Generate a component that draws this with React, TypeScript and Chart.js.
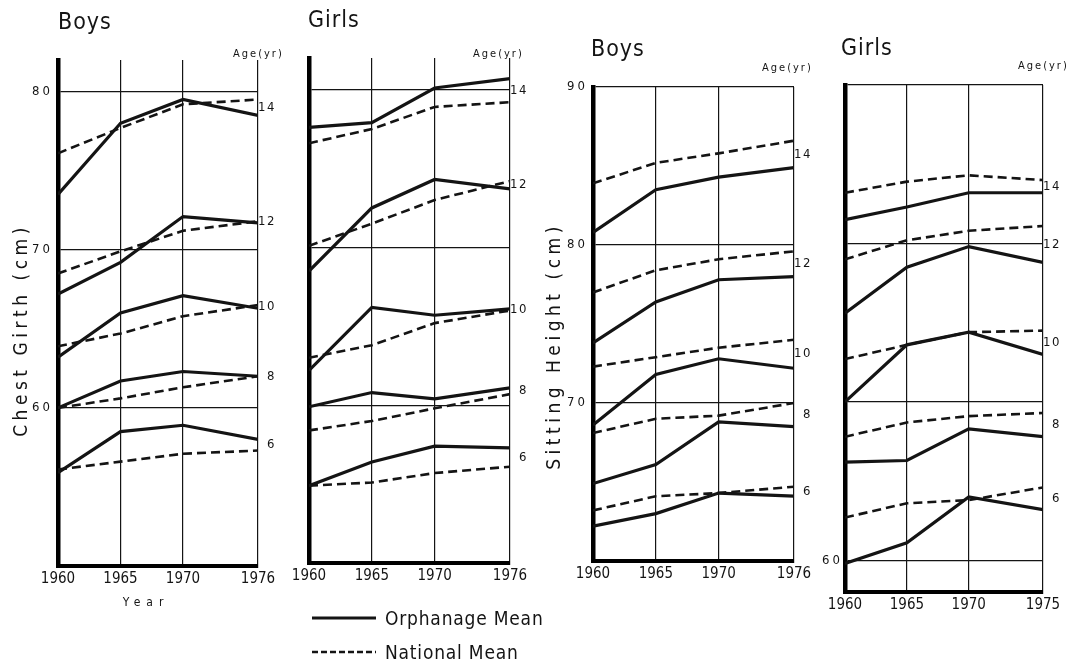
import React, { useEffect, useRef } from 'react';
import { Chart, registerables } from 'chart.js';

Chart.register(...registerables);

// ---------- data ----------
const years = [1960, 1965, 1970, 1976];
const ageLabels = ['14', '12', '10', '8', '6'];
const yearTickLabels = ['1960', '1965', '1970', '1976'];
const yearTickLabelsGirlsHeight = ['1960', '1965', '1970', '1975'];
const chestGridTicks = [60, 70, 80];
const heightGridTicksBoys = [70, 80, 90];
const heightGridTicksGirls = [60, 70, 80, 90];

// rows: ages 14, 12, 10, 8, 6 ; columns: years
const boysChestOrphanage = [
  [73.5, 78.0, 79.5, 78.5],
  [67.2, 69.2, 72.1, 71.7],
  [63.2, 66.0, 67.1, 66.3],
  [60.0, 61.7, 62.3, 62.0],
  [55.9, 58.5, 58.9, 58.0],
];
const boysChestNational = [
  [76.1, 77.7, 79.2, 79.5],
  [68.5, 69.9, 71.2, 71.8],
  [63.9, 64.7, 65.8, 66.5],
  [60.0, 60.6, 61.3, 62.0],
  [56.1, 56.6, 57.1, 57.3],
];
const girlsChestOrphanage = [
  [77.6, 77.9, 80.1, 80.7],
  [68.5, 72.5, 74.3, 73.7],
  [62.2, 66.2, 65.7, 66.1],
  [59.9, 60.8, 60.4, 61.1],
  [54.9, 56.4, 57.4, 57.3],
];
const girlsChestNational = [
  [76.6, 77.5, 78.9, 79.2],
  [70.1, 71.5, 73.0, 74.2],
  [63.0, 63.8, 65.2, 66.0],
  [58.4, 59.0, 59.8, 60.7],
  [54.9, 55.1, 55.7, 56.1],
];
const boysHeightOrphanage = [
  [80.8, 83.5, 84.3, 84.9],
  [73.8, 76.4, 77.8, 78.0],
  [68.6, 71.8, 72.8, 72.2],
  [64.9, 66.1, 68.8, 68.5],
  [62.2, 63.0, 64.3, 64.1],
];
const boysHeightNational = [
  [83.9, 85.2, 85.8, 86.6],
  [77.0, 78.4, 79.1, 79.6],
  [72.3, 72.9, 73.5, 74.0],
  [68.1, 69.0, 69.2, 70.0],
  [63.2, 64.1, 64.3, 64.7],
];
const girlsHeightOrphanage = [
  [81.5, 82.3, 83.2, 83.2],
  [75.6, 78.5, 79.8, 78.8],
  [70.0, 73.6, 74.4, 73.0],
  [66.2, 66.3, 68.3, 67.8],
  [59.8, 61.1, 64.0, 63.2],
];
const girlsHeightNational = [
  [83.2, 83.9, 84.3, 84.0],
  [79.0, 80.2, 80.8, 81.1],
  [72.7, 73.6, 74.4, 74.5],
  [67.8, 68.7, 69.1, 69.3],
  [62.7, 63.6, 63.8, 64.6],
];

// ---------- layout / style ----------
const W = 1083;
const H = 661;
const FONT = "'DejaVu Sans Condensed','Liberation Sans Narrow','Liberation Sans',sans-serif";
const INK = '#141414';

type PanelSpec = {
  canvasLeft: number; canvasWidth: number;
  areaLeft: number; areaRight: number; areaTop: number; areaBottom: number;
  yMin: number; yMax: number;
  gridTicks: number[]; labeledTicks: number[]; tickPad: number;
  xLabels: string[];
  orphanage: number[][]; national: number[][];
  title: string; titleX: number; titleY: number;
  ageX: number; ageY: number;
  yTitle?: string; yTitleX?: number; yTitleY?: number;
  xTitle?: string; xTitleX?: number; xTitleY?: number;
};

const panels: PanelSpec[] = [
  {
    canvasLeft: 0, canvasWidth: 290, areaLeft: 58, areaRight: 258, areaTop: 60, areaBottom: 566,
    yMin: 50, yMax: 82, gridTicks: chestGridTicks, labeledTicks: [60, 70, 80], tickPad: 5,
    xLabels: yearTickLabels, orphanage: boysChestOrphanage, national: boysChestNational,
    title: 'Boys', titleX: 58, titleY: 29, ageX: 233, ageY: 57,
    yTitle: 'Chest Girth (cm)', yTitleX: 22, yTitleY: 330,
    xTitle: 'Year', xTitleX: 146, xTitleY: 606,
  },
  {
    canvasLeft: 270, canvasWidth: 280, areaLeft: 309, areaRight: 510, areaTop: 58, areaBottom: 563,
    yMin: 50, yMax: 82, gridTicks: chestGridTicks, labeledTicks: [], tickPad: 5,
    xLabels: yearTickLabels, orphanage: girlsChestOrphanage, national: girlsChestNational,
    title: 'Girls', titleX: 308, titleY: 27, ageX: 473, ageY: 57,
  },
  {
    canvasLeft: 540, canvasWidth: 290, areaLeft: 593, areaRight: 794, areaTop: 87, areaBottom: 561,
    yMin: 60, yMax: 90, gridTicks: heightGridTicksBoys, labeledTicks: [70, 80, 90], tickPad: 5,
    xLabels: yearTickLabels, orphanage: boysHeightOrphanage, national: boysHeightNational,
    title: 'Boys', titleX: 591, titleY: 56, ageX: 762, ageY: 71,
    yTitle: 'Sitting Height (cm)', yTitleX: 555, yTitleY: 346,
  },
  {
    canvasLeft: 800, canvasWidth: 283, areaLeft: 845, areaRight: 1043, areaTop: 85, areaBottom: 592,
    yMin: 58, yMax: 90, gridTicks: heightGridTicksGirls, labeledTicks: [60], tickPad: 2,
    xLabels: yearTickLabelsGirlsHeight, orphanage: girlsHeightOrphanage, national: girlsHeightNational,
    title: 'Girls', titleX: 841, titleY: 55, ageX: 1018, ageY: 69,
  },
];

function Panel({ spec }: { spec: PanelSpec }) {
  const ref = useRef<HTMLCanvasElement>(null);

  useEffect(() => {
    const s = spec;
    const L = s.canvasLeft;
    const datasets: any[] = [];
    s.national.forEach((row, i) => {
      datasets.push({
        label: `National ${ageLabels[i]}`,
        data: years.map((x, j) => ({ x, y: row[j] })),
        borderColor: INK, borderWidth: 2.6, borderDash: [9, 5],
        pointRadius: 0, tension: 0, fill: false,
      });
    });
    s.orphanage.forEach((row, i) => {
      datasets.push({
        label: `Orphanage ${ageLabels[i]}`,
        data: years.map((x, j) => ({ x, y: row[j] })),
        borderColor: INK, borderWidth: 3.2,
        pointRadius: 0, tension: 0, fill: false,
      });
    });

    const annotate = {
      id: 'annotate',
      beforeDraw(chart: any) {
        // spacing for the y tick labels (drawn under the datasets)
        chart.ctx.letterSpacing = '3px';
      },
      beforeDatasetsDraw(chart: any) {
        // spacing for the x tick labels (drawn above the datasets)
        chart.ctx.letterSpacing = '0px';
      },
      afterDraw(chart: any) {
        const { ctx, chartArea, scales } = chart;
        ctx.save();
        ctx.fillStyle = INK;
        // panel title
        ctx.letterSpacing = '1px';
        ctx.font = `23px ${FONT}`;
        ctx.textAlign = 'left';
        ctx.textBaseline = 'alphabetic';
        ctx.fillText(s.title, s.titleX - L, s.titleY);
        // Age(yr)
        ctx.letterSpacing = '2px';
        ctx.font = `11px ${FONT}`;
        ctx.fillText('Age(yr)', s.ageX - L, s.ageY);
        // age labels at line ends
        ctx.letterSpacing = '1.5px';
        ctx.font = `13px ${FONT}`;
        ctx.textAlign = 'right';
        ctx.textBaseline = 'middle';
        ageLabels.forEach((a, i) => {
          const last = years.length - 1;
          const v = (s.orphanage[i][last] + s.national[i][last]) / 2;
          ctx.fillText(a, chartArea.right + 18, scales.y.getPixelForValue(v));
        });
        // y title
        if (s.yTitle) {
          ctx.save();
          ctx.letterSpacing = '4.5px';
          ctx.font = `19px ${FONT}`;
          ctx.textAlign = 'center';
          ctx.textBaseline = 'middle';
          ctx.translate(s.yTitleX! - L, s.yTitleY!);
          ctx.rotate(-Math.PI / 2);
          ctx.fillText(s.yTitle, 0, 0);
          ctx.restore();
        }
        // x title
        if (s.xTitle) {
          ctx.letterSpacing = '6px';
          ctx.font = `12px ${FONT}`;
          ctx.textAlign = 'center';
          ctx.textBaseline = 'alphabetic';
          ctx.fillText(s.xTitle, s.xTitleX! - L, s.xTitleY!);
        }
        ctx.restore();
        ctx.letterSpacing = '0px';
      },
    };

    const chart = new Chart(ref.current as HTMLCanvasElement, {
      type: 'line',
      data: { datasets },
      plugins: [annotate as any],
      options: {
        responsive: false,
        animation: false,
        events: [],
        layout: {
          padding: {
            top: s.areaTop,
            left: 0,
            bottom: 0,
            right: s.canvasLeft + s.canvasWidth - s.areaRight,
          },
        },
        plugins: { legend: { display: false }, tooltip: { enabled: false } },
        scales: {
          x: {
            type: 'linear',
            min: years[0],
            max: years[years.length - 1],
            afterBuildTicks: (sc: any) => { sc.ticks = years.map((v) => ({ value: v })); },
            afterFit: (sc: any) => { sc.height = H - s.areaBottom; },
            ticks: {
              z: 1,
              autoSkip: false,
              maxRotation: 0,
              padding: 4,
              color: INK,
              font: { family: FONT, size: 15 },
              callback: (v: any) => s.xLabels[years.indexOf(Number(v))] ?? '',
            },
            grid: { color: INK, lineWidth: 1.2, drawTicks: false },
            border: { display: true, color: '#000', width: 4 },
          },
          y: {
            type: 'linear',
            min: s.yMin,
            max: s.yMax,
            afterBuildTicks: (sc: any) => { sc.ticks = s.gridTicks.map((v) => ({ value: v })); },
            afterFit: (sc: any) => { sc.width = s.areaLeft - s.canvasLeft; },
            ticks: {
              z: 0,
              padding: s.tickPad,
              color: INK,
              font: { family: FONT, size: 13 },
              callback: (v: any) => (s.labeledTicks.includes(Number(v)) ? String(v) : ''),
            },
            grid: { color: INK, lineWidth: 1.2, drawTicks: false },
            border: { display: true, color: '#000', width: 4.5 },
          },
        },
      } as any,
    });
    return () => chart.destroy();
  }, [spec]);

  return (
    <canvas
      ref={ref}
      width={spec.canvasWidth}
      height={H}
      style={{ position: 'absolute', left: spec.canvasLeft, top: 0, width: spec.canvasWidth, height: H }}
    />
  );
}

function LegendRow({ top, dashed, text }: { top: number; dashed: boolean; text: string }) {
  return (
    <div style={{ position: 'absolute', left: 311, top, height: 28, display: 'flex', alignItems: 'center' }}>
      <svg width={66} height={8} style={{ display: 'block' }}>
        <line
          x1={1} y1={4} x2={65} y2={4}
          stroke={INK}
          strokeWidth={dashed ? 2.6 : 3.2}
          strokeDasharray={dashed ? '6 3' : undefined}
        />
      </svg>
      <span style={{ marginLeft: 8, fontFamily: FONT, fontSize: 19, letterSpacing: '0.8px', color: INK, lineHeight: '28px' }}>
        {text}
      </span>
    </div>
  );
}

export default function App() {
  return (
    <div style={{ position: 'absolute', left: 0, top: 0, width: W, height: H, background: '#fff', overflow: 'hidden' }}>
      {panels.map((p, i) => (
        <Panel key={i} spec={p} />
      ))}
      <LegendRow top={604} dashed={false} text="Orphanage Mean" />
      <LegendRow top={638} dashed={true} text="National Mean" />
    </div>
  );
}
